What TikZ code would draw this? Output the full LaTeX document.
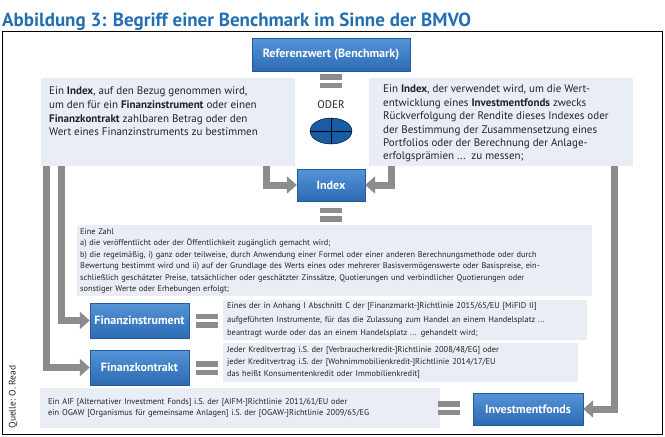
\documentclass[tikz,border=0pt]{standalone}
\usepackage{fontspec}
\setmainfont{PT Sans}
\usepackage{tikz}
\usetikzlibrary{arrows.meta,shapes.geometric}
\definecolor{boxtop}{RGB}{86,148,216}
\definecolor{boxbot}{RGB}{44,106,178}
\definecolor{boxline}{RGB}{36,88,150}
\definecolor{lightbg}{RGB}{233,238,246}
\definecolor{arrowgray}{RGB}{140,140,140}
\definecolor{titleblue}{RGB}{36,110,180}
\definecolor{ovalblue}{RGB}{24,92,168}
\definecolor{txtgray}{RGB}{35,35,35}

\begin{document}
\begin{tikzpicture}[x=1pt, y=-1pt, every node/.style={text=txtgray},
  bluebox/.style={draw=boxline, top color=boxtop, bottom color=boxbot, text=white, font=\fontsize{12}{14}\selectfont\bfseries, inner sep=0pt},
  greybox/.style={fill=lightbg, anchor=north west, align=left, inner ysep=0pt},
  garrow/.style={draw=arrowgray, line width=7pt, line join=miter, -{Triangle[length=10pt,width=17pt]}},
  gbar/.style={fill=arrowgray}]
\useasboundingbox (0,0) rectangle (665,437);
\node[anchor=base west, inner sep=0pt, text=titleblue, font=\fontsize{19}{22}\selectfont\bfseries] (title) at (2,26) {Abbildung 3: Begriff einer Benchmark im Sinne der BMVO};
\draw[line width=0.8pt] (2,31) rectangle (662,434);
\node[bluebox, minimum width=158pt, minimum height=33pt] (ref) at (331,55) {Referenzwert (Benchmark)};
% the two definitions of the index
\node[greybox, minimum width=254pt, minimum height=88pt] (lbox) at (41,78) {};
\node[anchor=north west, align=left, inner sep=0pt, font=\fontsize{11}{13.6}\selectfont] (ltxt) at ([xshift=8pt,yshift=-9pt]lbox.north west)
  {Ein \textbf{Index}, auf den Bezug genommen wird,\\ um den für ein \textbf{Finanzinstrument} oder einen\\ \textbf{Finanzkontrakt} zahlbaren Betrag oder den\\ Wert eines Finanzinstruments zu bestimmen};
\node[greybox, minimum width=264pt, minimum height=88pt] (rbox) at (369,78) {};
\node[anchor=north west, align=left, inner sep=0pt, font=\fontsize{11}{13.4}\selectfont] (rtxt) at ([xshift=14pt,yshift=-7pt]rbox.north west)
  {Ein \textbf{Index}, der verwendet wird, um die Wert-\\ entwicklung eines \textbf{Investmentfonds} zwecks\\ Rückverfolgung der Rendite dieses Indexes oder\\ der Bestimmung der Zusammensetzung eines\\ Portfolios oder der Berechnung der Anlage-\\ erfolgsprämien ...\ \ zu messen;};
\node[font=\fontsize{11}{13}\selectfont] (oder) at (331,105) {ODER};
\node[ellipse, draw=black, fill=ovalblue, minimum width=42pt, minimum height=26pt, inner sep=0pt] (orsym) at (331,131) {};
\draw (orsym.north) -- (orsym.south);
\draw (orsym.west) -- (orsym.east);
\node[bluebox, minimum width=68pt, minimum height=32pt] (idx) at (331,185) {Index};
\draw[garrow] ([xshift=-28.5pt]lbox.south east) |- (idx.west);
\draw[garrow] ([xshift=22.5pt]rbox.south west) |- (idx.east);
% Eine Zahl
\node[greybox, minimum width=515pt, minimum height=71pt, text width=509pt, inner xsep=3pt, font=\fontsize{8.3}{11.5}\selectfont] (zahl) at (77,225)
  {Eine Zahl\\
   a) die veröffentlicht oder der Öffentlichkeit zugänglich gemacht wird;\\
   b) die regelmäßig, i) ganz oder teilweise, durch Anwendung einer Formel oder einer anderen Berechnungsmethode oder durch\\
   Bewertung bestimmt wird und ii) auf der Grundlage des Werts eines oder mehrerer Basisvermögenswerte oder Basispreise, ein-\\
   schließlich geschätzter Preise, tatsächlicher oder geschätzter Zinssätze, Quotierungen und verbindlicher Quotierungen oder\\
   sonstiger Werte oder Erhebungen erfolgt;};
\node[bluebox, minimum width=99pt, minimum height=35pt] (fi) at (139.5,320.5) {Finanzinstrument};
\node[greybox, minimum width=364pt, minimum height=40pt, text width=356pt, inner xsep=4pt, font=\fontsize{8.4}{13.5}\selectfont] (fitxt) at (223,300)
  {Eines der in Anhang I Abschnitt C der [Finanzmarkt-]Richtlinie 2015/65/EU [MiFID II]\\
   aufgeführten Instrumente, für das die Zulassung zum Handel an einem Handelsplatz ...\\
   beantragt wurde oder das an einem Handelsplatz ... gehandelt wird;};
\node[bluebox, minimum width=99pt, minimum height=35pt] (fk) at (139.5,367.5) {Finanzkontrakt};
\node[greybox, minimum width=355pt, minimum height=39pt, text width=347pt, inner xsep=4pt, font=\fontsize{8.4}{12}\selectfont] (fktxt) at (223,343)
  {Jeder Kreditvertrag i.S. der [Verbraucherkredit-]Richtlinie 2008/48/EG] oder\\
   jeder Kreditvertrag i.S. der [Wohnimmobilienkredit-]Richtlinie 2014/17/EU\\
   das heißt Konsumentenkredit oder Immobilienkredit]};
\draw[garrow] ([xshift=20pt]lbox.south west) |- (fi.west);
\draw[garrow] ([xshift=5pt]lbox.south west) |- (fk.west);
% Investmentfonds
\node[greybox, minimum width=392pt, minimum height=40pt, text width=384pt, inner xsep=8pt, font=\fontsize{8.4}{11}\selectfont] (aif) at (40,388)
  {Ein AIF [Alternativer Investment Fonds] i.S. der [AIFM-]Richtlinie 2011/61/EU oder\\
   ein OGAW [Organismus für gemeinsame Anlagen] i.S. der [OGAW-]Richtlinie 2009/65/EG};
\node[bluebox, minimum width=110pt, minimum height=32pt] (inv) at (528,409) {Investmentfonds};
\draw[garrow] ([xshift=-18.5pt]rbox.south east) |- (inv.east);
\foreach \ex/\ey in {331/81,331/214.5,207/320.5,207/368,449/408}
  {\fill[gbar] (\ex-11,\ey-7) rectangle (\ex+11,\ey-1.5);
   \fill[gbar] (\ex-11,\ey+1.5) rectangle (\ex+11,\ey+7);}
\node[rotate=90, font=\fontsize{9.5}{11}\selectfont] (src) at (13,397) {Quelle: O. Read};
\end{tikzpicture}
\end{document}
